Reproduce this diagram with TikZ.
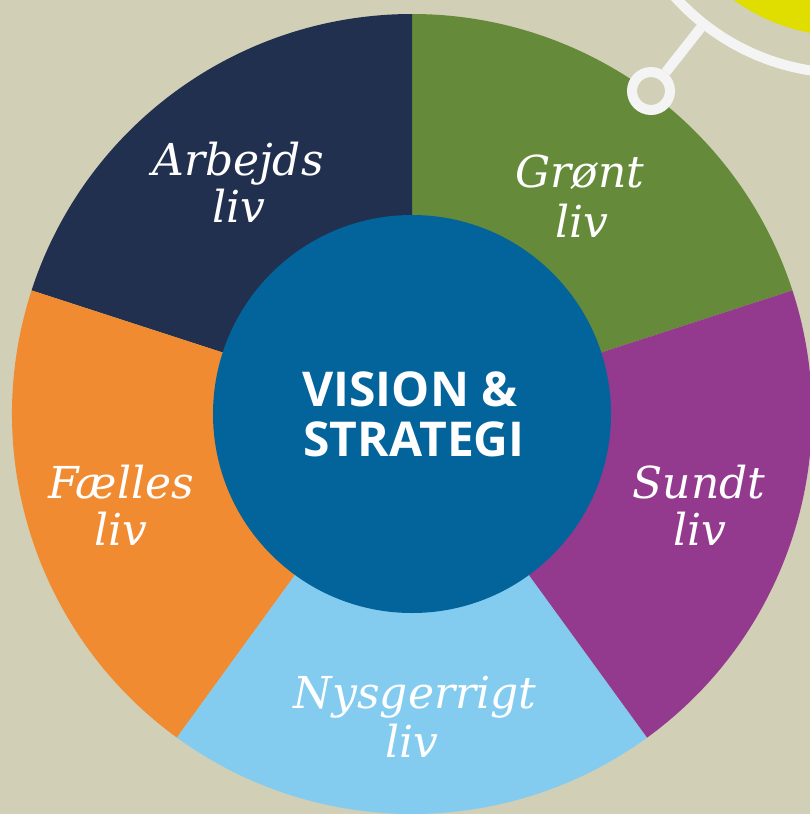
\documentclass[tikz,border=0pt]{standalone}
\usepackage{fontspec}
\newfontfamily\segfont{DejaVu Serif}
\newfontfamily\ctrfont{Open Sans}
\definecolor{cbg}{HTML}{D1CFB6}
\definecolor{cnavy}{HTML}{22304F}
\definecolor{cgreen}{HTML}{658A3A}
\definecolor{cpurple}{HTML}{943A8E}
\definecolor{clight}{HTML}{84CCEF}
\definecolor{corange}{HTML}{F18B32}
\definecolor{cblue}{HTML}{02649A}
\definecolor{cyellow}{HTML}{E0DD00}
\definecolor{cwhite}{HTML}{F4F4F4}
\tikzset{
  seglabel/.style={text=white, anchor=base, inner sep=0pt, font=\segfont\itshape\fontsize{44}{47}\selectfont},
  ctrlabel/.style={text=white, anchor=base, inner sep=0pt, font=\ctrfont\bfseries\fontsize{48}{50}\selectfont},
  ringline/.style={draw=cwhite, line width=10pt}
}
\begin{document}
\begin{tikzpicture}[x=1pt,y=-1pt]
\useasboundingbox (0,0) rectangle (810,814);
\clip (0,0) rectangle (810,814);
\fill[cbg] (0,0) rectangle (810,814);
\coordinate (C) at (412,414);
% wheel segments
\fill[cgreen]  (C) -- ++(-18:400)  arc[start angle=-18,  end angle=-90,  radius=400] -- cycle;
\fill[cnavy]   (C) -- ++(-90:400)  arc[start angle=-90,  end angle=-162, radius=400] -- cycle;
\fill[corange] (C) -- ++(-162:400) arc[start angle=-162, end angle=-234, radius=400] -- cycle;
\fill[clight]  (C) -- ++(-234:400) arc[start angle=-234, end angle=-306, radius=400] -- cycle;
\fill[cpurple] (C) -- ++(-306:400) arc[start angle=-306, end angle=-378, radius=400] -- cycle;
% centre
\node (ctr) [circle, fill=cblue, minimum size=398pt, inner sep=0pt] at (C) {};
\node (v1) [ctrlabel] at (410,406) {VISION \&};
\node (v2) [ctrlabel] at (414,456) {STRATEGI};
% labels
\node (a1) [seglabel] at (238,175) {Arbejds};
\node (a2) [seglabel] at (239,222) {liv};
\node (g1) [seglabel] at (580,187) {Grønt};
\node (g2) [seglabel] at (582,237) {liv};
\node (f1) [seglabel] at (121,498) {Fælles};
\node (f2) [seglabel] at (121,545) {liv};
\node (s1) [seglabel] at (699,498) {Sundt};
\node (s2) [seglabel] at (700,545) {liv};
\node (n1) [seglabel] at (415,708) {Nysgerrigt};
\node (n2) [seglabel] at (412,757) {liv};
% top-right emblem
\node (sun) [circle, fill=cyellow, minimum size=388pt, inner sep=0pt] at (846.6,-157.7) {};
\node (bigring) [circle, ringline, minimum size=462pt, inner sep=0pt] at (846.6,-157.7) {};
\node (smallring) [circle, ringline, fill=cbg, minimum size=38pt, inner sep=0pt] at (651,91) {};
\draw[cwhite, line width=10pt] (smallring) -- (bigring);
\end{tikzpicture}
\end{document}
